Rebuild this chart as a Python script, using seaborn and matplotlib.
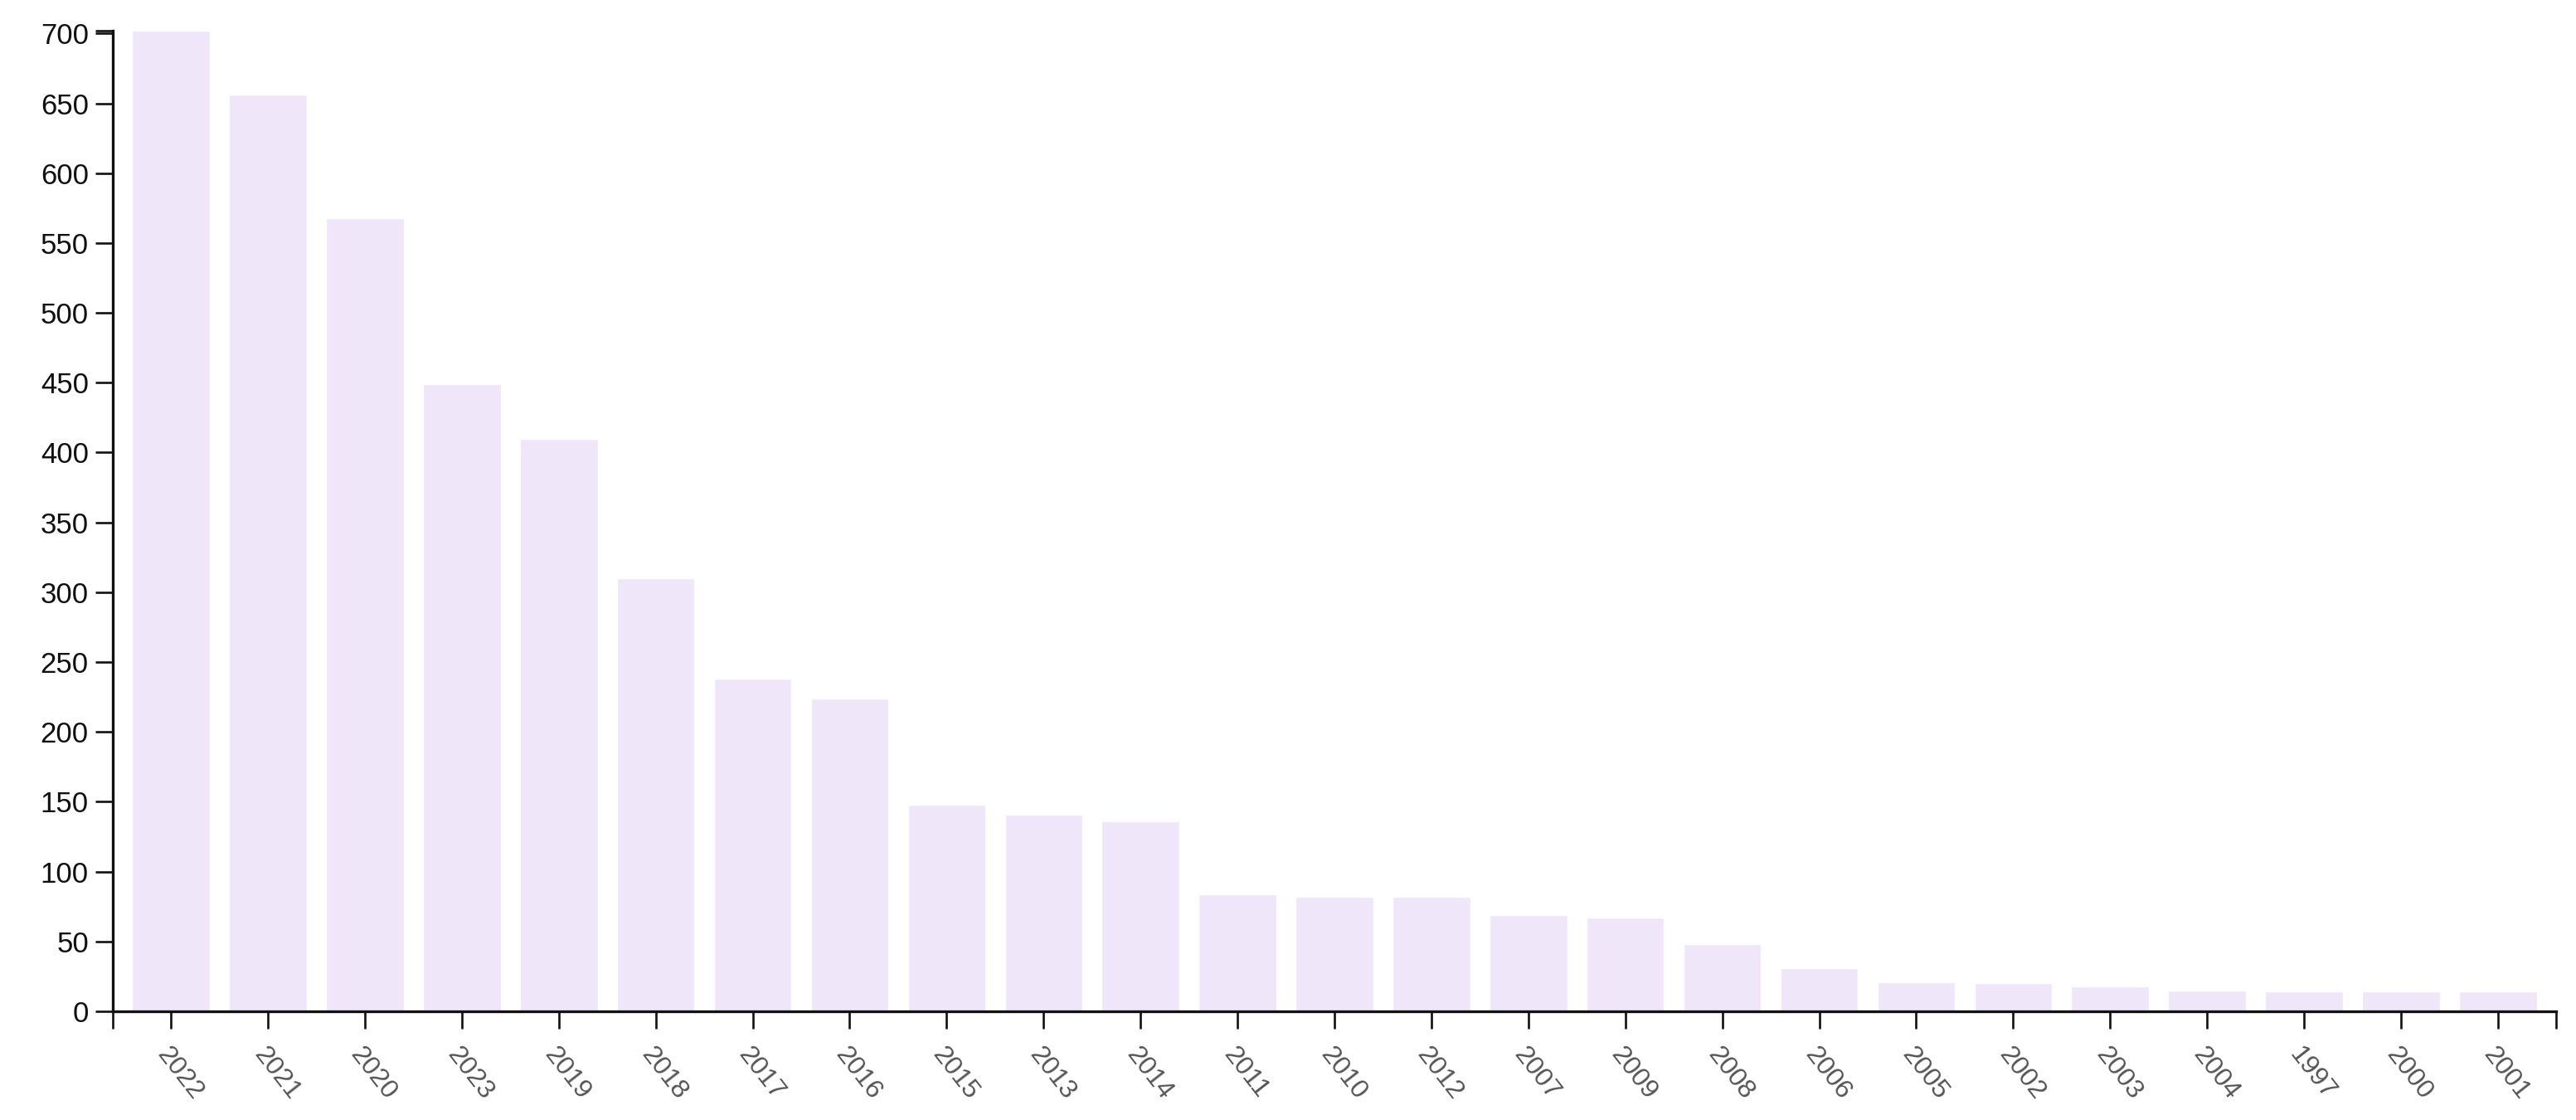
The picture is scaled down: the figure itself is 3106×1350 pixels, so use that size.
import matplotlib

matplotlib.use("Agg")
import matplotlib.pyplot as plt
import pandas as pd
import seaborn as sns

# Publications per year, sorted by count
years = [
    "2022", "2021", "2020", "2023", "2019", "2018", "2017", "2016", "2015",
    "2013", "2014", "2011", "2010", "2012", "2007", "2009", "2008", "2006",
    "2005", "2002", "2003", "2004", "1997", "2000", "2001",
]
counts = [
    702, 656, 568, 449, 410, 310, 238, 224, 148,
    141, 136, 84, 82, 82, 69, 67, 48, 31,
    21, 20, 18, 15, 14, 14, 14,
]
y_ticks = list(range(0, 701, 50))

BAR_COLOR = "#efe6f9"

df = pd.DataFrame({"year": years, "count": counts})

sns.set_theme(style="white")
plt.rcParams["font.family"] = ["Liberation Sans", "DejaVu Sans"]

fig = plt.figure(figsize=(31.06, 13.5), dpi=100)
ax = fig.add_axes([136 / 3106, 1 - 1219 / 1350, (3082 - 136) / 3106, (1219 - 37) / 1350])

sns.barplot(
    data=df,
    x="year",
    y="count",
    order=years,
    color=BAR_COLOR,
    saturation=1,
    width=0.8,
    ax=ax,
)

n = len(years)
ax.set_xlim(-0.6, n - 1 + 0.6)
ax.set_ylim(0, max(counts))
ax.set_xlabel("")
ax.set_ylabel("")

ax.set_yticks(y_ticks)
ax.set_yticklabels([str(v) for v in y_ticks], fontsize=25, color="#111111")
ax.set_xticks(range(n))
ax.set_xticklabels(years, rotation=-52, ha="left", rotation_mode="anchor",
                   fontsize=23, color="#555555")

# outer ticks at the ends of each axis, like a d3 domain path
ax.set_xticks([-0.6, n - 1 + 0.6], minor=True)
ax.set_yticks([0, max(counts)], minor=True)

for side in ["top", "right"]:
    ax.spines[side].set_visible(False)
for side in ["left", "bottom"]:
    ax.spines[side].set_linewidth(2.4)
    ax.spines[side].set_color("#111111")

ax.tick_params(axis="both", which="both", direction="out", length=15, width=1.9,
               color="#111111", left=True, bottom=True)
ax.tick_params(axis="y", which="major", pad=6)
ax.tick_params(axis="x", which="major", pad=12)

fig.savefig("out.png", dpi=100, facecolor="white")
